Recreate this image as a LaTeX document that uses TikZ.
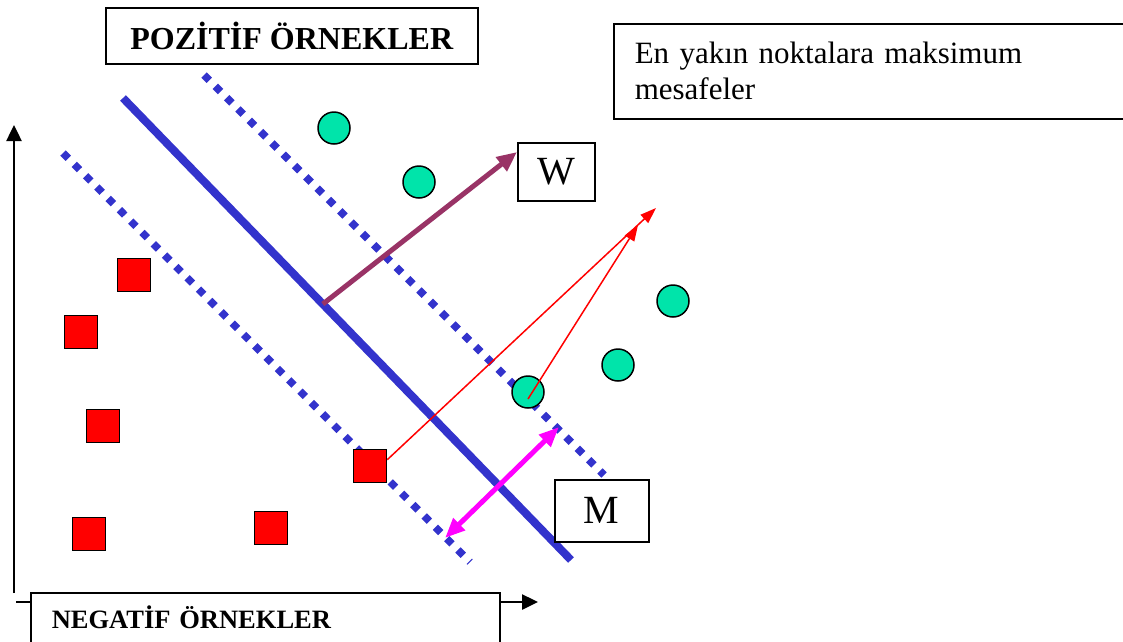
\documentclass[tikz,border=0pt]{standalone}
\usepackage{fontspec}
\setmainfont{Liberation Serif}
\usetikzlibrary{arrows.meta,calc}
\definecolor{lineblue}{RGB}{51,51,204}
\definecolor{posgreen}{RGB}{0,228,170}
\definecolor{wpurple}{RGB}{153,51,102}
\definecolor{mpink}{RGB}{255,0,255}
\begin{document}
\begin{tikzpicture}[x=1pt, y=-1pt,
    box/.style={draw, fill=white, line width=1.5pt, inner sep=0pt, anchor=north west},
    posdot/.style={circle, draw, line width=1.5pt, fill=posgreen, minimum size=32pt, inner sep=0pt},
    negdot/.style={rectangle, draw, line width=1.5pt, fill=red, minimum size=33pt, inner sep=0pt},
    margin/.style={lineblue, line width=7.5pt, dash pattern=on 7.5pt off 8.5pt},
    axis/.style={line width=2.5pt, -{Triangle[length=16pt,width=15pt]}}]
    \def\textsz{\fontsize{32}{36}\selectfont}
    \def\letsz{\fontsize{40}{40}\selectfont}

    \useasboundingbox (0,0) rectangle (1123,641);

    \draw[axis] (14,593) -- (14,125);
    \draw[axis] (16,602) -- (538,602);

    \coordinate (h1) at (123,98);  \coordinate (h2) at (571,560);
    \coordinate (u1) at (204,75);  \coordinate (u2) at (604,475);
    \coordinate (l1) at (63,153);  \coordinate (l2) at (470,562);
    \draw[lineblue, line width=8pt] (h1) -- (h2);
    \draw[margin] (u1) -- (u2);
    \draw[margin] (l1) -- (l2);

    \foreach \n/\x/\y in {1/334/128, 2/419/182, 3/528/392, 4/618/365, 5/673/301}
        \node[posdot] (p\n) at (\x,\y) {};
    \foreach \n/\x/\y in {1/134/275, 2/81/332, 3/103/426, 4/89/534, 5/271/528, 6/370/466}
        \node[negdot] (n\n) at (\x,\y) {};

    \node[box, minimum width=372pt, minimum height=56pt, font=\bfseries\textsz] (pos) at (105,7) {POZİTİF ÖRNEKLER};
    \node[box, minimum width=530pt, minimum height=95pt, text width=488pt, inner xsep=21pt, align=left, font=\fontsize{31}{36}\selectfont] (note) at (613,23) {En yakın noktalara maksimum\\mesafeler};
    \node[box, minimum width=77pt, minimum height=58pt, font=\letsz] (w) at (517,142) {W};
    \node[box, minimum width=94pt, minimum height=62pt, font=\letsz] (m) at (554,479) {M};
    \node[box, text width=427pt, inner xsep=21pt, inner ysep=13pt, text depth=30pt, align=left, font=\bfseries\fontsize{26.5}{30}\selectfont] (neg) at (30,592) {NEGATİF ÖRNEKLER};

    \coordinate (foot) at ($(h1)!0.446!(h2)$);
    \draw[wpurple, line width=5pt, -{Triangle[length=20pt,width=17pt]}] (foot) -- ($(w.north west)+(0,10)$);

    \coordinate (ma) at (445,538);  \coordinate (mb) at (559,427);
    \draw[mpink, line width=5pt, {Triangle[length=20pt,width=16pt]}-{Triangle[length=20pt,width=16pt]}] (ma) -- (mb);

    \coordinate (ra) at (656,208);  \coordinate (rb) at (638,225);
    \draw[red, line width=1.5pt, -{Triangle[length=16pt,width=11pt]}] (n6.20) -- (ra);
    \draw[red, line width=1.5pt, -{Triangle[length=16pt,width=11pt]}] ($(p3)+(0,7)$) -- (rb);
\end{tikzpicture}
\end{document}
